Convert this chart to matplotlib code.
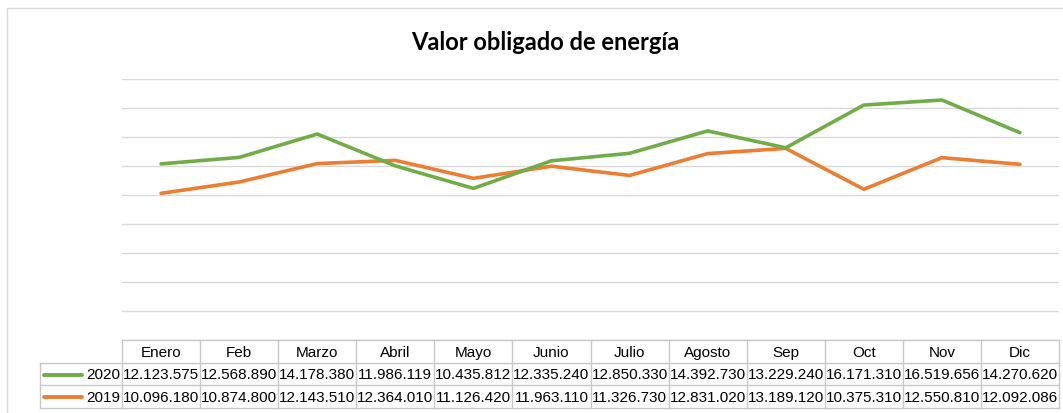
import numpy as np
import matplotlib.pyplot as plt
from matplotlib.lines import Line2D

meses = ["Enero", "Feb", "Marzo", "Abril", "Mayo", "Junio", "Julio",
         "Agosto", "Sep", "Oct", "Nov", "Dic"]
v2020 = [12123575, 12568890, 14178380, 11986119, 10435812, 12335240,
         12850330, 14392730, 13229240, 16171310, 16519656, 14270620]
v2019 = [10096180, 10874800, 12143510, 12364010, 11126420, 11963110,
         11326730, 12831020, 13189120, 10375310, 12550810, 12092086]
series = [("2020", v2020, "#70AD47"), ("2019", v2019, "#ED7D31")]

plt.rcParams['font.family'] = ['Liberation Sans', 'DejaVu Sans']
W, H = 1063, 414
fig = plt.figure(figsize=(W / 100, H / 100), dpi=100)

# pixel helpers
def fx(px):
    return px / W

def fy(py):
    return 1 - py / H

x0, x1 = 122, 1059
y_top, y_bot = 79.5, 341
ax = fig.add_axes([fx(x0), fy(y_bot), fx(x1) - fx(x0), fy(y_top) - fy(y_bot)])
xs = np.arange(len(meses))
for name, vals, col in series[::-1]:
    ax.plot(xs, vals, color=col, lw=2.6, solid_capstyle='round', zorder=3)
ax.set_xlim(-0.5, len(meses) - 0.5)
ax.set_ylim(0, 18000000)
ax.set_yticks(np.arange(0, 18000001, 2000000))
ax.yaxis.grid(True, color="#D9D9D9", lw=1.0)
ax.set_axisbelow(True)
ax.tick_params(left=False, bottom=False, labelleft=False, labelbottom=False)
for s in ax.spines.values():
    s.set_visible(False)

# outer chart border
bg = fig.add_axes([0, 0, 1, 1], zorder=-1)
bg.set_xlim(0, W)
bg.set_ylim(H, 0)
bg.axis("off")
bg.plot([7, 7, W + 5], [H + 5, 9, 9], color="#D9D9D9", lw=1.0)

fig.text(fx(545), fy(42), "Valor obligado de energía", ha="center", va="center",
         fontsize=17, fontweight="bold", family=["Lato", "DejaVu Sans"])

# data table
tb = fig.add_axes([0, 0, 1, 1], zorder=2)
tb.set_xlim(0, W)
tb.set_ylim(H, 0)
tb.axis("off")
n = len(meses)
cw = (x1 - x0) / n
rows = [341, 363.5, 386.5, 409]
gc = "#C8C8C8"
lw = 1.0
tb.plot([x0, x1], [rows[0], rows[0]], color=gc, lw=lw)
for r in rows[1:]:
    tb.plot([40, x1], [r, r], color=gc, lw=lw)
for i in range(n + 1):
    tb.plot([x0 + i * cw] * 2, [rows[0], rows[3]], color=gc, lw=lw)
tb.plot([40, 40], [rows[1], rows[3]], color=gc, lw=lw)

fs = 11
fam = ['Liberation Sans', 'DejaVu Sans']
for i, m in enumerate(meses):
    tb.text(x0 + (i + 0.5) * cw, (rows[0] + rows[1]) / 2 + 0.5, m,
            ha="center", va="center", fontsize=fs, family=fam)
for k, (name, vals, col) in enumerate(series):
    yc = (rows[k + 1] + rows[k + 2]) / 2 + 0.5
    tb.add_line(Line2D([44, 82], [yc, yc], color=col, lw=2.8,
                       solid_capstyle='round'))
    tb.text(x0 - 2, yc, name, ha="right", va="center", fontsize=fs, family=fam)
    for i, v in enumerate(vals):
        tb.text(x0 + (i + 0.5) * cw, yc, f"{v:,}".replace(",", "."),
                ha="center", va="center", fontsize=fs, family=fam)

fig.savefig("out.png", dpi=100)
